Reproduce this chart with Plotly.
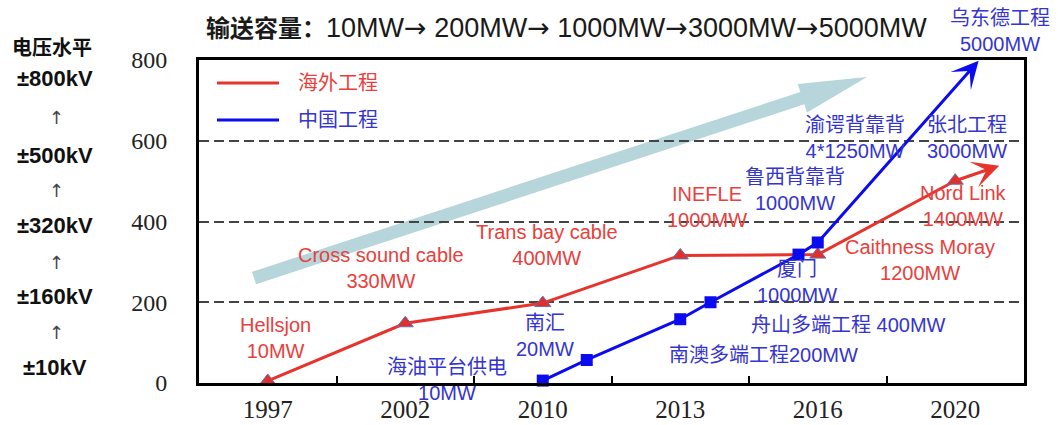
import plotly.graph_objects as go
import math

# ---------------- data ----------------
years = ["1997", "2002", "2010", "2013", "2016", "2020"]
year_pos = [0, 1, 2, 3, 4, 5]

overseas_x = [0, 1, 2, 3, 4, 5]
overseas_y = [5, 148, 198, 316, 318, 501]
overseas_arrow_x, overseas_arrow_y = 5.32, 538

china_x = [2.0, 2.32, 3.0, 3.22, 3.86, 4.0]
china_y = [6, 57, 158, 200, 318, 348]
china_arrow_x, china_arrow_y = 5.17, 798

y_ticks = [0, 200, 400, 600, 800]
voltage_levels = ["±800kV", "±500kV", "±320kV", "±160kV", "±10kV"]
capacity_steps = ["10MW", " 200MW", " 1000MW", "3000MW", "5000MW"]

red_labels = ["Hellsjon<br>10MW", "Cross sound cable<br>330MW", "Trans bay cable<br>400MW",
              "INEFLE<br>1000MW", "Caithness Moray<br>1200MW", "Nord Link<br>1400MW"]
blue_labels = ["乌东德工程<br>5000MW", "渝谔背靠背<br>4*1250MW", "张北工程<br>3000MW",
               "鲁西背靠背<br>1000MW", "厦门<br>1000MW", "舟山多端工程 400MW",
               "南澳多端工程200MW", "南汇<br>20MW", "海油平台供电<br>10MW"]

# ---------------- style ----------------
W, H = 1058, 425
ML, MR, MT, MB = 199, 34, 60, 42
PW, PH = W - ML - MR, H - MT - MB
X0, X1 = -0.5, 5.5
Y0, Y1 = 0, 800

RED = "#e8332c"
RED_TXT = "#e8403c"
BLUE = "#0b0bf0"
BLUE_TXT = "#3434cf"
SANS = "Liberation Sans, Noto Sans CJK SC, sans-serif"
SERIF = "Liberation Serif, serif"


def pp_x(px):
    return (px - ML) / PW


def pp_y(py):
    return (MT + PH - py) / PH


fig = go.Figure()

fig.add_trace(go.Scatter(
    x=overseas_x, y=overseas_y, mode="lines+markers", name="海外工程",
    line=dict(color=RED, width=3),
    marker=dict(symbol="triangle-up", size=14, color="#e0302d",
                line=dict(color="#6b6fa8", width=1)),
    showlegend=False, cliponaxis=False,
))
fig.add_trace(go.Scatter(
    x=china_x, y=china_y, mode="lines+markers", name="中国工程",
    line=dict(color=BLUE, width=3),
    marker=dict(symbol="square", size=12, color=BLUE),
    showlegend=False, cliponaxis=False,
))

annotations = []
annotations.append(dict(x=overseas_arrow_x, y=overseas_arrow_y, ax=overseas_x[-1], ay=overseas_y[-1],
                        xref="x", yref="y", axref="x", ayref="y", text="", showarrow=True,
                        arrowhead=3, arrowsize=1.5, arrowwidth=3, arrowcolor=RED))
annotations.append(dict(x=china_arrow_x, y=china_arrow_y, ax=china_x[-1], ay=china_y[-1],
                        xref="x", yref="y", axref="x", ayref="y", text="", showarrow=True,
                        arrowhead=3, arrowsize=1.5, arrowwidth=3, arrowcolor=BLUE))

red_pos = [(275, 338), (381, 268), (547, 245), (707, 207), (920, 260), (963, 206)]
blue_pos = [(1000, 31), (855, 138), (967, 138), (795, 190), (797, 282), (848, 325),
            (763, 355), (545, 336), (447, 380)]
for t, (px, py) in zip(red_labels, red_pos):
    annotations.append(dict(x=pp_x(px), y=pp_y(py), xref="paper", yref="paper", text=t,
                            showarrow=False, xanchor="center", yanchor="middle",
                            font=dict(family=SANS, size=20, color=RED_TXT)))
for t, (px, py) in zip(blue_labels, blue_pos):
    annotations.append(dict(x=pp_x(px), y=pp_y(py), xref="paper", yref="paper", text=t,
                            showarrow=False, xanchor="center", yanchor="middle",
                            font=dict(family=SANS, size=20, color=BLUE_TXT)))

# title
arrow_span = '<span style="font-family:DejaVu Sans;font-size:27px">→</span>'
steps = ['<span style="font-size:27px">' + s + '</span>' for s in capacity_steps]
title_text = "<b>输送容量：</b>" + arrow_span.join(steps)
annotations.append(dict(x=pp_x(204), y=pp_y(28), xref="paper", yref="paper",
                        text=title_text,
                        showarrow=False, xanchor="left", yanchor="middle",
                        font=dict(family=SANS, size=24, color="#1a1a1a")))

# voltage column
annotations.append(dict(x=pp_x(52), y=pp_y(48), xref="paper", yref="paper", text="<b>电压水平</b>",
                        showarrow=False, xanchor="center", yanchor="middle",
                        font=dict(family=SANS, size=20, color="#111")))
volt_py = [78, 155, 225, 296, 367]
arrow_py = [118, 190, 262, 332]
for t, py in zip(voltage_levels, volt_py):
    annotations.append(dict(x=pp_x(55), y=pp_y(py), xref="paper", yref="paper", text="<b>" + t + "</b>",
                            showarrow=False, xanchor="center", yanchor="middle",
                            font=dict(family=SANS, size=22, color="#111")))
for py in arrow_py:
    annotations.append(dict(x=pp_x(56), y=pp_y(py), xref="paper", yref="paper", text="↑",
                            showarrow=False, xanchor="center", yanchor="middle",
                            font=dict(family="DejaVu Sans", size=18, color="#444")))

# manual legend
shapes = []
for (name, col, tcol, py) in [("海外工程", RED, RED_TXT, 83), ("中国工程", BLUE, BLUE_TXT, 120)]:
    shapes.append(dict(type="line", xref="paper", yref="paper", x0=pp_x(217), x1=pp_x(279),
                       y0=pp_y(py), y1=pp_y(py), line=dict(color=col, width=3)))
    annotations.append(dict(x=pp_x(296), y=pp_y(py), xref="paper", yref="paper", text=name,
                            showarrow=False, xanchor="left", yanchor="middle",
                            font=dict(family=SANS, size=20, color=tcol)))

# big trend arrow (decoration)
S = (254, 278)
T = (867, 77)
dx, dy = T[0] - S[0], T[1] - S[1]
ln = math.hypot(dx, dy)
u = (dx / ln, dy / ln)
n = (-u[1], u[0])
w, L, Hh = 6.5, 68, 15
C = (T[0] - L * u[0], T[1] - L * u[1])
pts = [
    (S[0] - w * n[0], S[1] - w * n[1]),
    (C[0] - w * n[0], C[1] - w * n[1]),
    (C[0] - Hh * n[0], C[1] - Hh * n[1]),
    T,
    (C[0] + Hh * n[0], C[1] + Hh * n[1]),
    (C[0] + w * n[0], C[1] + w * n[1]),
    (S[0] + w * n[0], S[1] + w * n[1]),
]
path = "M " + " L ".join(f"{pp_x(a):.5f},{pp_y(b):.5f}" for a, b in pts) + " Z"
shapes.append(dict(type="path", xref="paper", yref="paper", path=path,
                   fillcolor="#b6d6db", line=dict(width=0), layer="below"))

fig.update_layout(
    width=W, height=H,
    margin=dict(l=ML, r=MR, t=MT, b=MB, autoexpand=False),
    paper_bgcolor="white", plot_bgcolor="white",
    showlegend=False,
    annotations=annotations,
    shapes=shapes,
    xaxis=dict(range=[X0, X1], tickvals=year_pos, ticktext=years, ticks="",
               showline=True, linewidth=3, linecolor="black", mirror=True,
               showgrid=False, zeroline=False, ticklabelstandoff=2, automargin=False,
               tickfont=dict(family=SERIF, size=25, color="#222"),
               minor=dict(tickvals=[0.5, 1.5, 2.5, 3.5, 4.5], ticks="inside", ticklen=7,
                          tickwidth=2, tickcolor="black", showgrid=False)),
    yaxis=dict(range=[Y0, Y1], tickvals=y_ticks, ticks="",
               showline=True, linewidth=3, linecolor="black", mirror=True,
               showgrid=True, gridcolor="#444", gridwidth=1.6, griddash="10px,5px",
               zeroline=False, ticklabelstandoff=24, automargin=False,
               tickfont=dict(family=SERIF, size=24, color="#222")),
)

fig.write_html("out.html")
